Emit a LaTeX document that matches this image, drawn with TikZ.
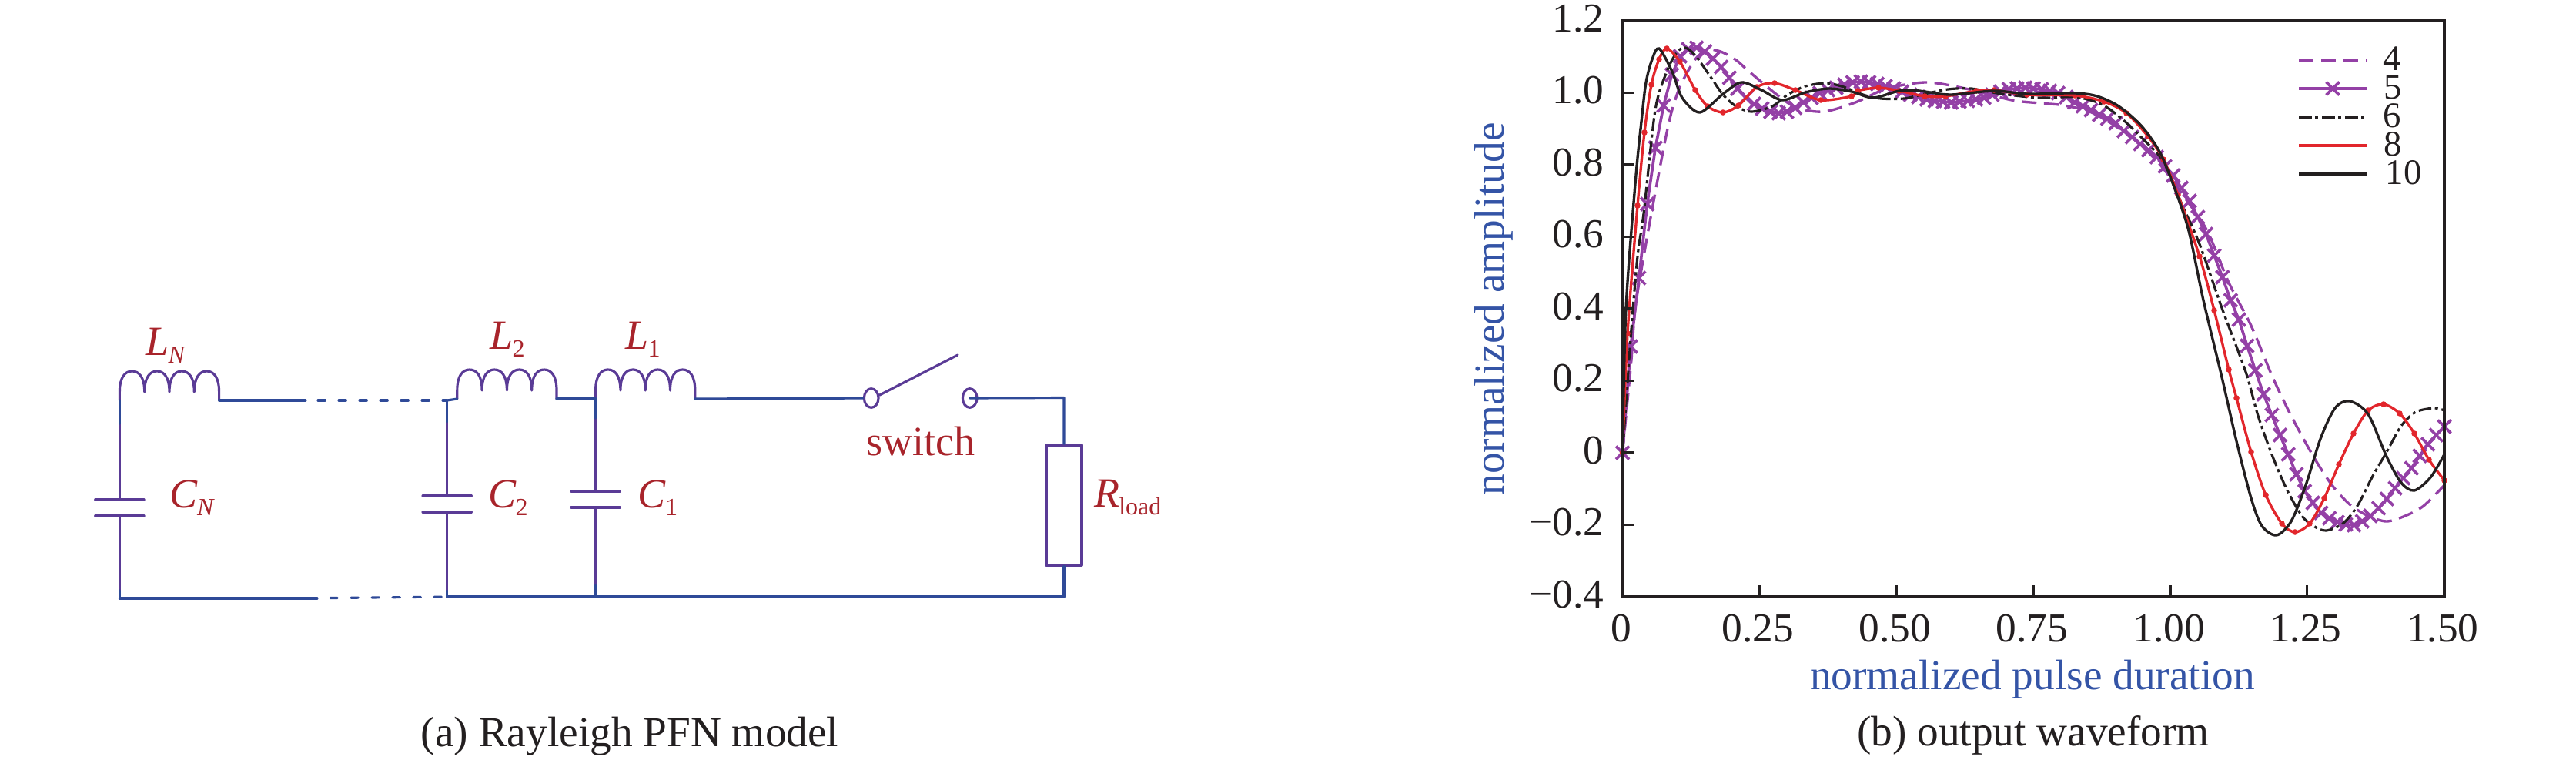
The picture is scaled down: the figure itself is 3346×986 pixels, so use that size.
\documentclass[tikz,border=0pt]{standalone}
\usepackage{fontspec}
\setmainfont{Liberation Serif}
\usetikzlibrary{shapes.geometric}
\definecolor{wireblue}{HTML}{2F4A98}
\definecolor{partviolet}{HTML}{5A3B96}
\definecolor{labelred}{HTML}{A8242B}
\definecolor{axisblue}{HTML}{3454A6}
\definecolor{inkblack}{HTML}{231F20}
\definecolor{curveviolet}{HTML}{9440A6}
\definecolor{curvered}{HTML}{E2262C}
\newcommand{\sublabel}[2]{#1\kern-0.02em\raisebox{-0.2em}{\fontsize{9.6}{10}\selectfont #2}}
\tikzset{
  wire/.style={draw=wireblue, line width=0.95pt, line cap=round, line join=round},
  part/.style={draw=partviolet, line width=0.95pt, line cap=round, line join=round},
  cutwire/.style={wire, dash pattern=on 2.8pt off 5.3pt},
  redlabel/.style={text=labelred, inner sep=0pt, anchor=base west, font=\fontsize{16.2}{18}\selectfont},
  inklabel/.style={text=inkblack, inner sep=0pt, font=\fontsize{16}{18}\selectfont},
  leglabel/.style={text=inkblack, inner sep=0pt, anchor=base west, font=\fontsize{14}{16}\selectfont},
  axislabel/.style={text=axisblue, inner sep=0pt, anchor=base, font=\fontsize{16.6}{18}\selectfont},
  caption/.style={text=inkblack, inner sep=0pt, anchor=base, font=\fontsize{16.6}{18}\selectfont},
  contact/.style={ellipse, part, fill=white, minimum width=5.6pt, minimum height=7.4pt, inner sep=0pt},
  rload/.style={rectangle, part, minimum width=13.8pt, minimum height=46.8pt, inner sep=0pt},
  waveN4/.style={draw=curveviolet, line width=1pt, dash pattern=on 5.8pt off 2.9pt},
  waveN5/.style={draw=curveviolet, line width=1.1pt, line join=round},
  waveN6/.style={draw=inkblack, line width=0.95pt, dash pattern=on 5pt off 1.4pt on 1.2pt off 1.4pt},
  waveN8/.style={draw=curvered, line width=1pt},
  waveN10/.style={draw=inkblack, line width=1pt},
  coil/.pic={
    \coordinate (-a) at (0,0);
    \coordinate (-b) at (129.2,0);
    \draw[part] (-a) -- (0,-11)
      foreach \k in {0,...,3} {
        .. controls ({32.3*\k},-30) and ({32.3*\k+7},-38) .. ({32.3*\k+16.15},-38)
        .. controls ({32.3*\k+25.3},-38) and ({32.3*\k+32.3},-30) .. ({32.3*\k+32.3},-11)
      } -- (-b);
  },
  capplates/.pic={
    \coordinate (-a) at (0,-10.5);
    \coordinate (-b) at (0,10.5);
    \draw[part] (-31.7,-10.5) -- (31.7,-10.5) (-31.7,10.5) -- (31.7,10.5);
  },
  xcross/.pic={
    \draw[draw=curveviolet, line width=1.1pt] (-8.5,-8.5) -- (8.5,8.5) (-8.5,8.5) -- (8.5,-8.5);
  }
}
% sampled trace of the N=5 curve, one value every 10.675 px
\def\waveNfive{450,361,265,192,137,97,73,64,62,67,76,87,101,115,127,135,141,145,147,145,
  140,133,127,121,117,114,110,107,106,107,109,112,115,119,123,126,129,131,132,133,
  132,131,129,127,123,119,116,115,114,115,116,118,121,126,133,138,143,149,154,160,
  170,178,187,195,204,216,228,244,261,282,304,332,360,390,415,449,481,512,539,565,
  590,616,638,653,666,673,678,681,682,677,670,660,648,634,621,608,592,577,565,554}
\begin{document}
\begin{tikzpicture}[x=0.3pt, y=-0.3pt]
  \useasboundingbox (0,0) rectangle (3346,986);

  % circuit
  \pic (LN) at (155.4,520) {coil};
  \pic (L2) at (593.8,518) {coil};
  \pic (L1) at (773.6,518) {coil};
  \pic (CN) at (155.4,659.5) {capplates};
  \pic (C2) at (580.7,654.5) {capplates};
  \pic (C1) at (773.6,648.5) {capplates};
  \node[contact] (swA) at (1131.7,517) {};
  \node[contact] (swB) at (1259.7,517) {};
  \node[rload]   (Rl)  at (1382,656) {};
  \coordinate (topcutA) at (397,520);
  \coordinate (topcutB) at (413,520);
  \coordinate (topN2)   at (580.7,520);
  \coordinate (botN)    at (155.4,777);
  \coordinate (botcutA) at (412,777);
  \coordinate (botcutB) at (429,776.5);
  \coordinate (botN2)   at (580.7,775);
  \coordinate (botN1)   at (773.6,775);
  \coordinate (botR)    at (1382,775);
  \coordinate (swTop)   at (1244,461);
  \coordinate (topR)    at (1382,516.5);

  \draw[part] (LN-a) -- (CN-a) (CN-b) -- (botN);
  \draw[part] (topN2) -- (C2-a) (C2-b) -- (botN2);
  \draw[part] (L1-a) -- (C1-a) (C1-b) -- (botN1);
  \draw[wire] (LN-a) -- ++(0,30) (botN) -- ++(0,-10);
  \draw[wire] (topN2) -- ++(0,28) (botN2) -- ++(0,-8);
  \draw[wire] (L1-a) -- ++(0,25) (botN1) -- ++(0,-15);
  \draw[wire] (LN-b) -- (topcutA);
  \draw[cutwire] (topcutB) -- (topN2);
  \draw[wire] (topN2) -- (L2-a);
  \draw[wire] (L2-b) -- (L1-a);
  \draw[wire] (L1-b) -- (swA);
  \draw[wire] (swB.center) -- (topR) -- (Rl.north);
  \draw[part] (swA.20) -- (swTop);
  \draw[wire] (Rl.south) -- (botR) -- (botN2);
  \draw[wire] (botN) -- (botcutA);
  \draw[cutwire] (botcutB) -- (botN2);

  \node[redlabel] (lblLN) at (189,461) {\sublabel{\textit{L}}{\textit{N}}};
  \node[redlabel] (lblL2) at (636,453) {\sublabel{\textit{L}}{2}};
  \node[redlabel] (lblL1) at (812,453) {\sublabel{\textit{L}}{1}};
  \node[redlabel] (lblCN) at (220,659) {\sublabel{\textit{C}}{\textit{N}}};
  \node[redlabel] (lblC2) at (633.6,659) {\sublabel{\textit{C}}{2}};
  \node[redlabel] (lblC1) at (828,659) {\sublabel{\textit{C}}{1}};
  \node[redlabel] (lblRl) at (1420.7,658) {\sublabel{\textit{R}}{load}};
  \node[redlabel] (lblsw) at (1125,591) {switch};
  \node[caption] (capA) at (818,969) {(a) Rayleigh PFN model};

  % waveforms
  \coordinate (plotNW) at (2107.5,27);
  \coordinate (plotSE) at (3175,775);
  \draw[waveN4] plot[smooth] coordinates {(2107.5,588) (2113,530) (2119,467) (2124,400) (2135,333)
    (2150,250) (2168,158) (2182,113) (2202,77) (2218,65) (2235,67) (2255,78) (2272,93) (2308,123)
    (2334,140) (2369,145) (2410,133) (2451,115) (2502,107) (2553,115) (2613,130) (2650,134)
    (2681,137) (2719,147) (2767,177) (2805,213) (2838,257) (2867,300) (2895,367) (2924,423)
    (2952,490) (2976,540) (3005,593) (3029,630) (3052,655) (3076,670) (3100,677) (3124,670)
    (3148,657) (3175,630)};
  \draw[waveN5] (2107.5,588) foreach \y [count=\i from 1] in \waveNfive { -- ({2107.5+10.675*\i},\y) };
  \pic at (2107.5,588) {xcross};
  \foreach \y [count=\i from 1] in \waveNfive {
    \pic at ({2107.5+10.675*\i},\y) {xcross};
  }
  \draw[waveN6] plot[smooth] coordinates {(2107.5,588) (2118,440) (2127,333) (2135,277) (2150,143)
    (2165,93) (2178,68) (2189,62) (2202,72) (2222,100) (2238,123) (2255,138) (2275,145) (2302,138)
    (2322,123) (2345,112) (2372,108) (2395,113) (2420,123) (2443,128) (2473,128) (2500,122)
    (2530,116) (2560,115) (2600,122) (2650,127) (2695,126) (2729,135) (2757,155) (2786,183)
    (2810,210) (2833,263) (2857,317) (2886,400) (2917,483) (2933,540) (2952,593) (2971,637)
    (2990,670) (3005,683) (3021,689) (3043,680) (3062,657) (3081,620) (3100,587) (3119,553)
    (3138,535) (3162,530) (3175,533)};
  \draw[waveN8] plot[smooth, mark=*, mark size=0.6pt, mark options={draw=curvered, fill=curvered}] coordinates {(2107.5,588) (2114,433) (2127,267) (2136,172)
    (2145,110) (2155,77) (2165,63) (2182,80) (2202,117) (2218,138) (2238,146) (2258,137) (2282,113)
    (2305,108) (2332,117) (2365,130) (2405,125) (2413,118) (2440,114) (2467,118) (2500,125)
    (2527,125) (2567,118) (2590,117) (2633,123) (2695,124) (2733,132) (2762,147) (2790,177)
    (2810,207) (2829,253) (2857,333) (2876,403) (2895,480) (2905,517) (2924,587) (2943,643)
    (2964,680) (2981,691) (3000,680) (3019,647) (3038,603) (3057,563) (3076,533) (3096,525)
    (3117,537) (3136,563) (3155,597) (3175,624)};
  \draw[waveN10] plot[smooth] coordinates {(2107.5,588) (2112,400) (2124.5,233) (2132,158) (2138,107)
    (2146,77) (2155,63) (2172,93) (2185,127) (2208,146) (2238,122) (2262,107) (2288,117) (2315,130)
    (2345,120) (2375,115) (2405,119) (2433,127) (2467,118) (2493,118) (2533,123) (2590,118)
    (2633,122) (2695,121) (2724,125) (2752,138) (2781,163) (2805,197) (2824,243) (2843,300)
    (2862,390) (2886,490) (2905,573) (2924,647) (2938,683) (2957,695) (2976,677) (2995,630)
    (3014,570) (3033,530) (3052,521) (3076,538) (3100,593) (3119,627) (3136,637) (3157,620)
    (3175,590)};

  \draw[draw=inkblack, line width=0.95pt] (plotNW) rectangle (plotSE);
  \foreach \v/\name [count=\n from 0] in {1.2/1.2, 1.0/1.0, 0.8/0.8, 0.6/0.6, 0.4/0.4, 0.2/0.2, 0/0, -0.2/{−0.2}, -0.4/{−0.4}} {
    \draw[draw=inkblack, line width=0.95pt] (2107.5,{588-467.5*\v}) -- ++(15,0);
    \node[inklabel, anchor=base east] (ytick\n) at (2084,{588-467.5*\v+14}) {\name};
  }
  \foreach \t/\name [count=\n from 0] in {0/0, 0.25/0.25, 0.5/0.50, 0.75/0.75, 1/1.00, 1.25/1.25, 1.5/1.50} {
    \draw[draw=inkblack, line width=0.95pt] ({2107.5+711.5*\t},775) -- ++(0,-15);
    \node[inklabel, anchor=base] (xtick\n) at ({2105.5+711.5*\t},833) {\name};
  }

  % legend
  \coordinate (legA4) at (2986,78);    \coordinate (legB4) at (3075,78);
  \coordinate (legA5) at (2986,115);   \coordinate (legB5) at (3075,115);
  \coordinate (legA6) at (2986,152);   \coordinate (legB6) at (3075,152);
  \coordinate (legA8) at (2986,189);   \coordinate (legB8) at (3075,189);
  \coordinate (legA10) at (2986,226);  \coordinate (legB10) at (3075,226);
  \draw[waveN4] (legA4) -- (legB4);
  \draw[waveN5] (legA5) -- (legB5);
  \pic at (3030,115) {xcross};
  \draw[waveN6] (legA6) -- (legB6);
  \draw[waveN8] (legA8) -- (legB8);
  \fill[curvered] (3031,189) circle (0.6pt);
  \draw[waveN10] (legA10) -- (legB10);
  \node[leglabel] (leg4) at (3095,91) {4};
  \node[leglabel] (leg5) at (3096,128) {5};
  \node[leglabel] (leg6) at (3095,165) {6};
  \node[leglabel] (leg8) at (3096,202) {8};
  \node[leglabel] (leg10) at (3098,239) {10};

  \node[axislabel] (xaxis) at (2640,895) {normalized pulse duration};
  \node[axislabel, rotate=90] (yaxis) at (1953.6,401.5) {normalized amplitude};
  \node[caption] (capB) at (2641,968) {(b) output waveform};
\end{tikzpicture}
\end{document}
